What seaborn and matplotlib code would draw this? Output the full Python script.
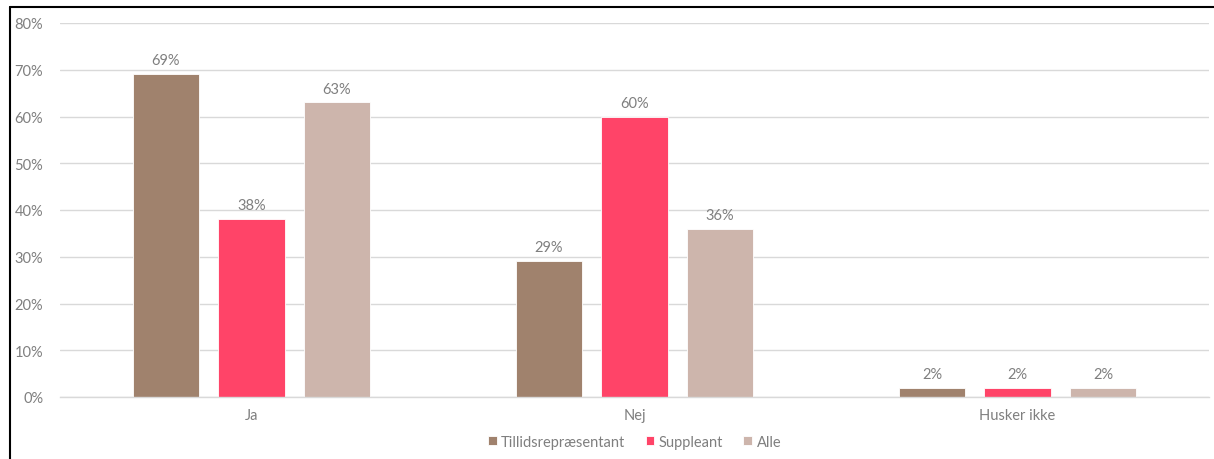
import matplotlib
matplotlib.use("Agg")
import matplotlib.pyplot as plt
from matplotlib.lines import Line2D
import seaborn as sns
import pandas as pd

categories = ["Ja", "Nej", "Husker ikke"]
groups = ["Tillidsrepræsentant", "Suppleant", "Alle"]
tillid_values = [69, 29, 2]
suppleant_values = [38, 60, 2]
alle_values = [63, 36, 2]
y_ticks = [0, 10, 20, 30, 40, 50, 60, 70, 80]

palette = {"Tillidsrepræsentant": "#A0826D",
           "Suppleant": "#FF4468",
           "Alle": "#CDB5AC"}

rows = []
for g, vals in zip(groups, [tillid_values, suppleant_values, alle_values]):
    for c, v in zip(categories, vals):
        rows.append({"Svar": c, "Gruppe": g, "Andel": v})
df = pd.DataFrame(rows)

sns.set_theme(style="white")
plt.rcParams["font.family"] = ["Lato", "DejaVu Sans"]

fig = plt.figure(figsize=(12.14, 4.60), dpi=100)
ax = fig.add_axes([60 / 1214, 1 - 398 / 460, 1149 / 1214, 374 / 460])

sns.barplot(data=df, x="Svar", y="Andel", hue="Gruppe", order=categories,
            hue_order=groups, palette=palette, width=0.67, gap=0.22,
            saturation=1, edgecolor="white", linewidth=0.6, ax=ax, legend=True)

text_color = "#7F7F7F"
for container in ax.containers:
    ax.bar_label(container, labels=[f"{v:.0f}%" for v in container.datavalues],
                 padding=5, fontsize=10.5, color=text_color)

ax.set_ylim(0, 80)
ax.set_xlim(-0.5, 2.5)
ax.set_yticks(y_ticks)
ax.set_yticklabels([f"{t}%" for t in y_ticks])
ax.yaxis.grid(True, color="#D9D9D9", linewidth=1)
ax.set_axisbelow(True)
ax.tick_params(axis="both", colors=text_color, labelsize=10.5, length=0, pad=12)
ax.tick_params(axis="x", pad=8)
ax.set_xlabel("")
ax.set_ylabel("")
for side in ["top", "right", "left"]:
    ax.spines[side].set_visible(False)
ax.spines["bottom"].set_color("#D9D9D9")
ax.spines["bottom"].set_linewidth(1)

handles, labels = ax.get_legend_handles_labels()
ax.legend(handles, labels, loc="center", bbox_to_anchor=(0.5, -0.12),
          ncol=3, frameon=False, fontsize=10.5, labelcolor=text_color,
          handlelength=0.6, handleheight=0.6, handletextpad=0.3, columnspacing=1.4)

# frame lines around the chart area
fig.add_artist(Line2D([10 / 1214, 10 / 1214], [0, 1 - 8 / 460], color="black", linewidth=1.5,
                      transform=fig.transFigure))
fig.add_artist(Line2D([10 / 1214, 1], [1 - 8 / 460, 1 - 8 / 460], color="black", linewidth=1.5,
                      transform=fig.transFigure))

fig.savefig("out.png", dpi=100, facecolor="white")
